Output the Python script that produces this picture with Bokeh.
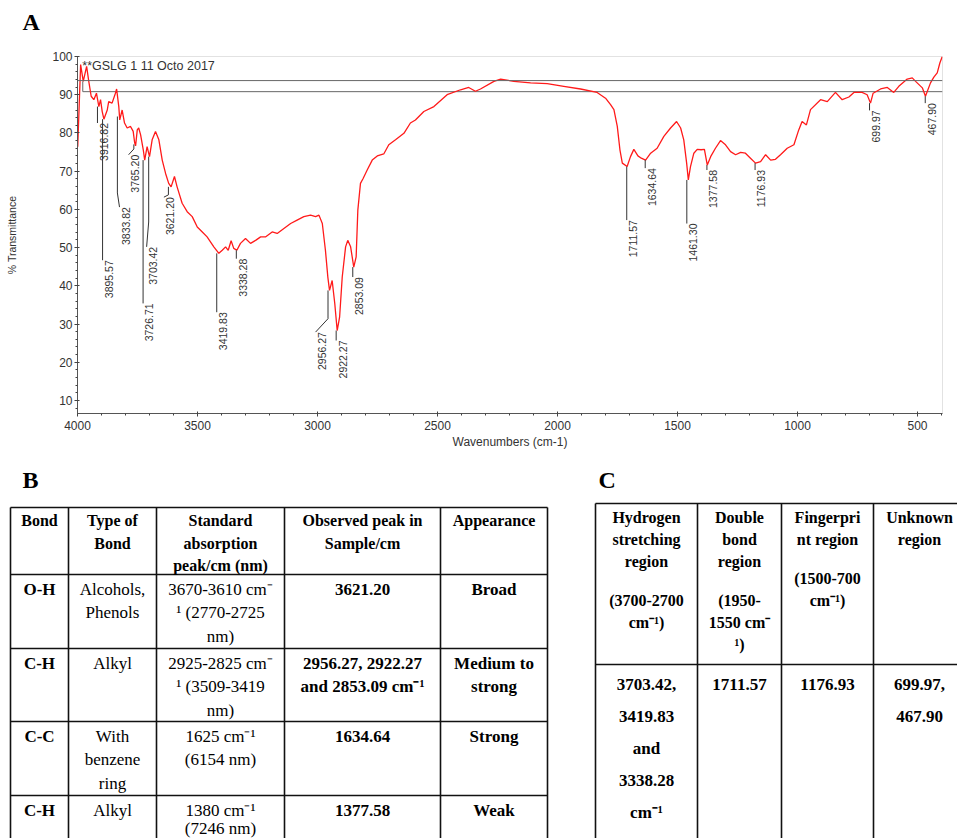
import math
from bokeh.plotting import figure
from bokeh.models import Range1d, FixedTicker, Span
from bokeh.embed import file_html
from bokeh.resources import INLINE
from bokeh.core.properties import value

# ---------------- Panel A: FTIR spectrum ----------------
wavenumber = [3999, 3987, 3976, 3962, 3953, 3943, 3932, 3921, 3911, 3904, 3897, 3890, 3876, 3870,
              3856, 3842, 3837, 3828, 3824, 3814, 3804, 3793, 3779, 3768, 3762, 3758, 3751, 3745,
              3737, 3726, 3720, 3710, 3700, 3689, 3675, 3661, 3647, 3633, 3620, 3610, 3596, 3585,
              3564, 3543, 3522, 3501, 3480, 3460, 3432, 3411, 3397, 3383, 3372, 3360, 3349, 3336,
              3321, 3300, 3279, 3258, 3237, 3217, 3189, 3168, 3140, 3112, 3085, 3057, 3029, 3008,
              2994, 2980, 2967, 2957, 2950, 2939, 2928, 2918, 2908, 2897, 2883, 2874, 2862, 2849,
              2839, 2832, 2821, 2810, 2793, 2772, 2751, 2724, 2703, 2675, 2640, 2613, 2592, 2557,
              2515, 2460, 2404, 2370, 2342, 2321, 2265, 2237, 2182, 2112, 2043, 1974, 1904, 1835,
              1800, 1779, 1765, 1751, 1740, 1730, 1710, 1696, 1682, 1665, 1651, 1633, 1612, 1585,
              1557, 1529, 1504, 1487, 1474, 1462, 1455, 1446, 1432, 1418, 1402, 1388, 1376, 1362,
              1342, 1321, 1300, 1279, 1258, 1237, 1217, 1196, 1175, 1154, 1133, 1112, 1092, 1071,
              1043, 1015, 995, 981, 963, 946, 904, 876, 842, 814, 786, 765, 731, 710, 696, 685,
              654, 626, 599, 578, 543, 522, 508, 480, 467, 446, 432, 418, 407, 397]
transmittance = [76.4, 97.9, 93.5, 97.4, 93.5, 89.6, 88.7, 90.4, 86.9, 88.7, 85.6, 83.6, 86.0, 88.2,
                 87.8, 90.4, 91.5, 86.9, 83.4, 86.0, 82.6, 81.3, 81.7, 80.4, 77.5, 76.6, 80.8, 81.3,
                 79.5, 75.6, 72.9, 76.4, 73.8, 78.2, 80.4, 78.2, 72.9, 69.4, 66.8, 65.9, 68.6, 65.9,
                 61.6, 59.4, 58.1, 55.4, 54.1, 52.8, 50.2, 48.5, 49.3, 50.2, 49.3, 51.8, 49.8, 49.3,
                 51.1, 52.4, 51.1, 51.9, 52.8, 52.8, 54.1, 53.7, 55.0, 56.3, 57.2, 58.1, 58.5, 58.1,
                 58.5, 56.3, 49.3, 42.3, 38.8, 41.4, 35.3, 28.3, 31.8, 42.3, 50.2, 51.9, 50.2, 44.9,
                 47.6, 59.8, 66.8, 68.1, 70.3, 72.9, 74.0, 74.5, 76.9, 78.2, 79.9, 82.6, 83.4, 85.6,
                 86.9, 90.0, 91.3, 91.9, 90.9, 91.5, 93.5, 94.1, 93.5, 93.1, 92.9, 92.2, 91.5, 90.6,
                 89.1, 87.4, 86.1, 81.7, 75.6, 72.1, 71.2, 73.8, 75.7, 74.0, 73.4, 72.9, 74.7, 76.0,
                 79.1, 81.3, 83.0, 81.3, 78.2, 72.1, 67.7, 71.2, 74.7, 75.7, 75.6, 75.7, 71.6, 73.8,
                 76.0, 78.0, 76.9, 75.1, 74.3, 74.9, 74.7, 73.4, 72.1, 72.5, 74.3, 72.9, 73.1, 74.3,
                 76.0, 76.9, 80.8, 83.0, 82.1, 86.1, 88.7, 88.2, 90.6, 88.7, 89.4, 90.6, 90.6, 90.0, 87.8, 90.4,
                 91.5, 91.9, 90.6, 92.2, 94.1, 94.4, 93.5, 91.8, 89.6, 93.1, 94.6, 95.7, 98.3, 100.0]

peak_text = ["3916.82", "3895.57", "3833.82", "3765.20", "3726.71", "3703.42", "3621.20",
             "3419.83", "3338.28", "2956.27", "2922.27", "2853.09", "1711.57", "1634.64",
             "1461.30", "1377.58", "1176.93", "699.97", "467.90"]
peak_wn = [3916.82, 3895.57, 3833.82, 3765.20, 3726.71, 3703.42, 3621.20, 3419.83, 3338.28,
           2956.27, 2922.27, 2853.09, 1711.57, 1634.64, 1461.30, 1377.58, 1176.93, 699.97, 467.90]
peak_top = [86.9, 83.6, 84.3, 77.0, 72.9, 73.8, 65.9, 48.5, 49.3, 38.8, 28.3, 44.9,
            71.2, 72.9, 67.7, 71.6, 72.1, 87.8, 89.6]
peak_bend = [82.6, 46.7, 64.3, 75.8, 35.4, 56.7, 63.8, 33.1, 47.1, 31.4, 25.7, 42.3,
             57.2, 70.8, 56.3, 70.3, 70.3, 85.9, 87.8]
label_wn = [3916.82, 3895.57, 3825, 3787, 3726.71, 3712, 3640, 3419.83, 3338.28,
            3008, 2922.27, 2853.09, 1711.57, 1634.64, 1461.30, 1377.58, 1176.93, 699.97, 467.90]
label_t = [82.6, 46.7, 60.6, 74.3, 35.4, 50.2, 63.2, 33.1, 47.1, 27.9, 25.7, 42.3,
           57.2, 70.8, 56.3, 70.3, 70.3, 85.9, 87.8]

ref_upper = 93.7
ref_lower = 90.8
ref_lower_start = 3978
ref_lower_top = 93.5

x_ticks = [4000, 3500, 3000, 2500, 2000, 1500, 1000, 500]
x_minor = list(range(400, 4001, 100))
y_ticks = [10, 20, 30, 40, 50, 60, 70, 80, 90, 100]
y_minor = list(range(8, 101, 2))
x_start, x_end = 4000, 396
y_start, y_end = 6.6, 100

sample_title = "**GSLG 1 11 Octo 2017"

SANS = "Liberation Sans"
SERIF = "Liberation Serif"
PAGE_W = 957
LABEL_GAP = 10  # wavenumber units between a marker line and its rotated text


def canvas(width, height, x0, x1, y_top, y_bottom):
    f = figure(width=width, height=height, x_range=Range1d(x0, x1), y_range=Range1d(y_bottom, y_top),
               output_backend="svg", toolbar_location=None, min_border=0,
               x_axis_type=None, y_axis_type=None)
    f.grid.visible = False
    f.outline_line_color = None
    return f


# header strip holding the panel letter A (page pixels 0..48)
hdr = canvas(PAGE_W, 48, 0, PAGE_W, 0, 48)
hdr.text(x=[22], y=[21], text=["A"], text_align="left", text_baseline="middle",
         text_font=value(SERIF), text_font_style="bold", text_font_size="24px", text_color="black")

# spectrum strip: page pixels 48..452, frame at x 77..942, y 56..413
p = figure(width=PAGE_W, height=404, x_range=Range1d(x_start, x_end), y_range=Range1d(y_start, y_end),
           output_backend="svg", toolbar_location=None,
           min_border_left=77, min_border_right=15, min_border_top=8, min_border_bottom=39)
p.grid.visible = False
p.outline_line_color = "#e2e2e2"

p.xaxis.ticker = FixedTicker(ticks=x_ticks, minor_ticks=x_minor)
p.yaxis.ticker = FixedTicker(ticks=y_ticks, minor_ticks=y_minor)
for ax in (p.xaxis[0], p.yaxis[0]):
    ax.axis_line_color = "#555555"
    ax.major_tick_line_color = "#444444"
    ax.minor_tick_line_color = "#444444"
    ax.major_tick_in = 2
    ax.major_tick_out = 3
    ax.minor_tick_in = 0
    ax.minor_tick_out = 2
    ax.major_label_text_font = SANS
    ax.major_label_text_font_size = "12px"
    ax.major_label_text_color = "#333333"
    ax.axis_label_text_font = SANS
    ax.axis_label_text_font_style = "normal"
    ax.axis_label_text_color = "#333333"
p.xaxis.axis_label = "Wavenumbers (cm-1)"
p.xaxis.axis_label_text_font_size = "12px"
p.xaxis.major_label_standoff = 4
p.xaxis.axis_label_standoff = 2
p.yaxis.axis_label = "% Transmittance"
p.yaxis.axis_label_text_font_size = "10.5px"
p.yaxis.major_label_standoff = 2
p.yaxis.axis_label_standoff = 31

p.add_layout(Span(location=ref_upper, dimension="width", line_color="#666666", line_width=1))
p.line([ref_lower_start, ref_lower_start, x_end], [ref_lower_top, ref_lower, ref_lower],
       line_color="#666666", line_width=1)

p.line(wavenumber, transmittance, line_color="#ff1a1a", line_width=1.3)

xs = [[a, a, c] for a, c in zip(peak_wn, label_wn)]
ys = [[tp, b, lt] for tp, b, lt in zip(peak_top, peak_bend, label_t)]
p.multi_line(xs, ys, line_color="#333333", line_width=1)
p.text(x=[w - LABEL_GAP for w in label_wn], y=label_t, text=peak_text, angle=math.pi / 2,
       text_align="right", text_baseline="top", text_font=value(SANS),
       text_font_size="10.5px", text_color="#333333")

p.text(x=[3980], y=[97.6], text=[sample_title], text_align="left", text_baseline="middle",
       text_font=value(SANS), text_font_size="12.5px", text_color="#333333")

# ---------------- Panels B and C: tables ----------------
b_cols = [10, 68, 156, 284, 440, 547]
b_rows = [507, 574, 648, 721, 795, 870]
b_header = [["Bond"], ["Type of", "Bond"], ["Standard", "absorption", "peak/cm (nm)"],
            ["Observed peak in", "Sample/cm"], ["Appearance"]]
b_bond = [["O-H"], ["C-H"], ["C-C"], ["C-H"]]
b_type = [["Alcohols,", "Phenols"], ["Alkyl"], ["With", "benzene", "ring"], ["Alkyl"]]
b_standard = [["3670-3610 cm\u207b", "\u00b9 (2770-2725", "nm)"],
              ["2925-2825 cm\u207b", "\u00b9 (3509-3419", "nm)"],
              ["1625 cm\u207b\u00b9", "(6154 nm)"],
              ["1380 cm\u207b\u00b9", "(7246 nm)"]]
b_observed = [["3621.20"], ["2956.27, 2922.27", "and 2853.09 cm\u207b\u00b9"], ["1634.64"], ["1377.58"]]
b_appearance = [["Broad"], ["Medium to", "strong"], ["Strong"], ["Weak"]]

c_cols = [595, 697, 781, 873, 965]
c_rows = [503, 664, 870]
c_header = [["Hydrogen", "stretching", "region", None, "(3700-2700", "cm\u207b\u00b9)"],
            ["Double", "bond", "region", None, "(1950-", "1550 cm\u207b", "\u00b9)"],
            ["Fingerpri", "nt region", None, "(1500-700", "cm\u207b\u00b9)"],
            ["Unknown", "region"]]
c_body = [["3703.42,", "3419.83", "and", "3338.28", "cm\u207b\u00b9"], ["1711.57"], ["1176.93"],
          ["699.97,", "467.90"]]

# tables strip: page pixels 452..838
t = canvas(PAGE_W, 386, 0, PAGE_W, 452, 838)

seg_x0, seg_y0, seg_x1, seg_y1 = [], [], [], []
for cols, rows in ((b_cols, b_rows), (c_cols, c_rows)):
    for r in rows:
        seg_x0.append(cols[0]); seg_x1.append(cols[-1]); seg_y0.append(r); seg_y1.append(r)
    for c in cols:
        seg_x0.append(c); seg_x1.append(c); seg_y0.append(rows[0]); seg_y1.append(rows[-1])
t.segment(seg_x0, seg_y0, seg_x1, seg_y1, line_color="#111111", line_width=1.6)

texts = {"bold16": ([], [], []), "bold17": ([], [], []), "reg17": ([], [], [])}


def put(key, x, y, s):
    texts[key][0].append(x)
    texts[key][1].append(y)
    texts[key][2].append(s)


def centers(cols):
    return [(a + b) / 2 for a, b in zip(cols[:-1], cols[1:])]


bcx = centers(b_cols)
for ci, lines in enumerate(b_header):
    for li, s in enumerate(lines):
        put("bold16", bcx[ci], 520 + li * 22.5, s)
body_cols = [(b_bond, "bold17"), (b_type, "reg17"), (b_standard, "reg17"),
             (b_observed, "bold17"), (b_appearance, "bold17")]
for ci, (col, key) in enumerate(body_cols):
    for ri, lines in enumerate(col):
        step = 23.3 if ri < 3 else 18.0
        for li, s in enumerate(lines):
            put(key, bcx[ci], b_rows[ri + 1] + 15 + li * step, s)

ccx = centers(c_cols)
for ci, lines in enumerate(c_header):
    y = 517
    for s in lines:
        if s is None:
            y += 17
            continue
        put("bold16", ccx[ci], y, s)
        y += 22
for ci, lines in enumerate(c_body):
    for li, s in enumerate(lines):
        put("bold17", ccx[ci], 684 + li * 32, s)

for key, (xx, yy, ss) in texts.items():
    style = "bold" if key.startswith("bold") else "normal"
    size = key[-2:] + "px"
    t.text(x=xx, y=yy, text=ss, text_align="center", text_baseline="middle",
           text_font=value(SERIF), text_font_style=style, text_font_size=size, text_color="black")

t.text(x=[22, 598], y=[479, 479], text=["B", "C"], text_align="left", text_baseline="middle",
       text_font=value(SERIF), text_font_style="bold", text_font_size="24px", text_color="black")

open("out.html", "w").write(file_html([hdr, p, t], INLINE))
